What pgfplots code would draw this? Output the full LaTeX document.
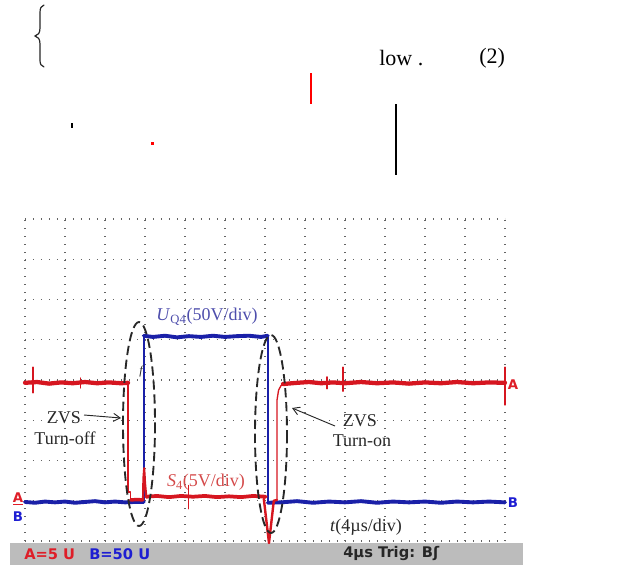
\documentclass[border=0pt]{standalone}
\usepackage{pgfplots}
\pgfplotsset{compat=1.18}
\usetikzlibrary{arrows.meta}
\usepackage{fontspec}
\setmainfont{Liberation Serif}
\newfontfamily\scopefont{DejaVu Sans}

\definecolor{traceA}{RGB}{214,22,32}
\definecolor{traceB}{RGB}{26,32,168}
\definecolor{gridgray}{RGB}{100,100,100}
\definecolor{barfill}{RGB}{188,188,188}
\definecolor{labelB}{RGB}{78,78,172}
\definecolor{labelA}{RGB}{212,74,74}
\definecolor{statusA}{RGB}{222,30,40}
\definecolor{statusB}{RGB}{30,30,210}
\definecolor{ink}{RGB}{40,40,40}

\begin{document}
\begin{tikzpicture}[x=0.75pt,y=-0.75pt]
\useasboundingbox (0,0) rectangle (619,565);

% fragments of the surrounding text
\draw[black!85, line width=0.9pt, line cap=round]
  (44,5) .. controls (41,6) and (40,8) .. (40,13) -- (40,28)
  .. controls (40,33) and (38,35.5) .. (35,36)
  .. controls (38,36.5) and (40,39) .. (40,44) -- (40,60)
  .. controls (40,64) and (41,66) .. (44,67);
\node[anchor=west,inner sep=0pt,font=\fontsize{16.5}{18}\selectfont] at (379,58) {low .};
\node[anchor=west,inner sep=0pt,font=\fontsize{16.5}{18}\selectfont] at (479,58) {(2)};
\draw[red,line width=1.5pt] (311,73) -- (311,104);
\draw[black,line width=2.2pt] (396,104) -- (396,175);
\draw[black,line width=1.2pt] (72,123) -- (72,128);
\fill[red] (151,142) rectangle (153.5,144.5);

% status bar of the oscilloscope
\fill[barfill] (10,543) rectangle (523,565);
\node[anchor=west,inner sep=0pt,text=statusA,font=\scopefont\bfseries\fontsize{11}{12}\selectfont] at (24,554) {A=5 U};
\node[anchor=west,inner sep=0pt,text=statusB,font=\scopefont\bfseries\fontsize{11}{12}\selectfont] at (89,554) {B=50 U};
\node[anchor=west,inner sep=0pt,text=black!85,font=\scopefont\bfseries\fontsize{11}{12}\selectfont] at (343,554) {4µs Trig: Bʃ};

\begin{axis}[
  at={(18.75pt,-405.75pt)}, anchor=south west,
  scale only axis, width=360pt, height=241.5pt,
  xmin=0, xmax=12, ymin=0, ymax=8,
  xtick={0,...,12}, ytick={0,...,8},
  xticklabels={}, yticklabels={},
  major tick length=0pt,
  axis line style={draw=none},
  grid=major,
  major grid style={gridgray, line width=1.1pt, dash pattern=on 1.1pt off 4.9pt},
  clip=false,
  every axis plot/.append style={line join=round, line cap=round},
]
% channel B: drain-source voltage U_Q4
\addplot[traceB, line width=2.9pt] coordinates {
  (0,0.97)(0.25,0.95)(0.5,0.98)(0.75,0.96)(1.0,0.98)(1.25,0.95)(1.5,0.97)
  (1.75,0.99)(2.0,0.96)(2.25,0.98)(2.5,0.96)(2.75,0.97)(2.97,0.97)};
\addplot[traceB, line width=1.2pt] coordinates {(2.97,0.97)(2.97,5.09)};
\addplot[traceB, line width=2.9pt] coordinates {
  (2.97,5.10)(3.2,5.07)(3.5,5.10)(3.8,5.06)(4.1,5.09)(4.4,5.07)(4.7,5.10)
  (5.0,5.07)(5.3,5.09)(5.6,5.10)(5.9,5.07)(6.07,5.10)};
\addplot[traceB, line width=1.2pt] coordinates {(6.07,5.09)(6.07,0.97)};
\addplot[traceB, line width=2.9pt] coordinates {
  (6.07,0.95)(6.4,0.96)(6.8,0.99)(7.2,0.95)(7.6,0.98)(8.0,0.96)(8.4,0.99)
  (8.8,0.95)(9.2,0.98)(9.6,0.96)(10.0,0.98)(10.4,0.95)(10.8,0.98)(11.2,0.96)
  (11.6,0.98)(12.0,0.96)};

% channel A: gate drive S4
\addplot[traceA, line width=3.2pt] coordinates {
  (0,3.93)(0.3,3.95)(0.6,3.91)(0.9,3.94)(1.2,3.92)(1.5,3.95)(1.8,3.92)
  (2.1,3.94)(2.4,3.92)(2.575,3.93)};
\addplot[traceA, line width=1.0pt] coordinates {
  (2.575,3.93)(2.575,1.22)(2.64,1.22)(2.64,1.02)};
\addplot[traceA, line width=2.6pt] coordinates {(2.64,1.02)(2.8,1.03)(2.95,1.02)};
\addplot[traceA, line width=1.6pt] coordinates {
  (2.95,1.02)(2.96,1.55)(2.98,1.81)(3.0,1.45)(3.03,1.12)};
\addplot[traceA, line width=2.8pt] coordinates {
  (3.03,1.10)(3.3,1.12)(3.6,1.09)(3.9,1.12)(4.2,1.10)(4.5,1.12)(4.8,1.09)
  (5.1,1.11)(5.4,1.09)(5.7,1.12)(6.02,1.10)};
\addplot[traceA, line width=1.8pt] coordinates {
  (5.97,1.05)(6.1,-0.05)(6.22,1.0)(6.3,1.02)};
\addplot[traceA, line width=1.0pt] coordinates {
  (6.3,1.02)(6.3,3.5)(6.34,3.75)(6.4,3.86)(6.5,3.92)};
\addplot[traceA, line width=3.2pt] coordinates {
  (6.45,3.90)(6.8,3.93)(7.1,3.95)(7.4,3.92)(7.7,3.94)(8.0,3.92)(8.4,3.95)
  (8.8,3.92)(9.2,3.94)(9.6,3.91)(10.0,3.94)(10.4,3.92)(10.8,3.95)
  (11.2,3.92)(11.6,3.94)(12.0,3.93)};
% switching spikes on channel A
\addplot[traceA, line width=0.9pt] coordinates {(0.2,4.32)(0.2,3.68)};
\addplot[traceA, line width=0.8pt] coordinates {(1.38,4.05)(1.38,3.8)};
\addplot[traceA, line width=0.9pt] coordinates {(4.08,1.38)(4.08,0.8)};
\addplot[traceA, line width=0.8pt] coordinates {(7.55,4.08)(7.55,3.78)};
\addplot[traceA, line width=0.9pt] coordinates {(7.95,4.32)(7.95,3.72)};
\addplot[traceA, line width=0.9pt] coordinates {(12.0,4.32)(12.0,3.38)};
\end{axis}

% ZVS regions
\draw[ink, line width=1.4pt, dash pattern=on 7pt off 3.5pt] (139,424) ellipse [x radius=16, y radius=102];
\draw[ink, line width=1.4pt, dash pattern=on 7pt off 3.5pt] (271,434) ellipse [x radius=16, y radius=99];

% trace annotations
\node[text=labelB,font=\fontsize{13.5}{15}\selectfont] at (207,317) {\textit{U}\textsubscript{Q4}(50V/div)};
\node[text=labelA,font=\fontsize{13.5}{15}\selectfont] at (206,482) {\textit{S}\textsubscript{4}(5V/div)};
\node[text=ink,font=\fontsize{13.5}{15}\selectfont] at (64,418) {ZVS};
\node[text=ink,font=\fontsize{13.5}{15}\selectfont] at (65,438) {Turn-off};
\draw[ink, line width=0.7pt, -{Straight Barb[length=5pt,width=6pt]}] (84,415) -- (121,418);
\node[text=ink,font=\fontsize{13.5}{15}\selectfont] at (360,421) {ZVS};
\node[text=ink,font=\fontsize{13.5}{15}\selectfont] at (362,441) {Turn-on};
\draw[ink, line width=0.7pt, -{Straight Barb[length=5pt,width=6pt]}] (335,426) -- (292,408);
\node[text=ink,font=\fontsize{13.5}{15}\selectfont] at (366,527) {\textit{t}(4µs/div)};
\node[text=ink,font=\itshape\fontsize{9}{10}\selectfont] at (141,372) {f};

% channel markers
\node[text=statusA,font=\scopefont\bfseries\fontsize{10}{11}\selectfont,inner sep=0pt] at (18,498) {A};
\draw[statusA,line width=1pt] (13,504.5) -- (23,504.5);
\node[text=statusB,font=\scopefont\bfseries\fontsize{10}{11}\selectfont,inner sep=0pt] at (18,517) {B};
\node[text=statusA,font=\scopefont\bfseries\fontsize{10}{11}\selectfont,inner sep=0pt] at (513,385) {A};
\node[text=statusB,font=\scopefont\bfseries\fontsize{10}{11}\selectfont,inner sep=0pt] at (513,503) {B};
\end{tikzpicture}
\end{document}
